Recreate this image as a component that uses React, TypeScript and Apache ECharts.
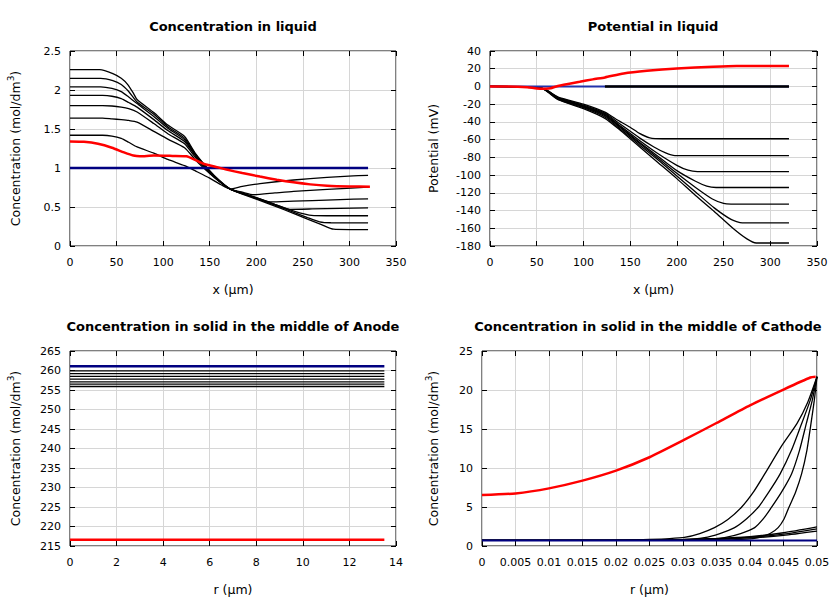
import React, { useEffect, useRef } from "react";
import * as echarts from "echarts";

// ---------- Panel 1: Concentration in liquid (x in µm, mol/dm3) ----------
const liqConc0 = [[0,1.42],[35,1.42],[45,1.41],[55,1.38],[63,1.33],[72,1.27],[90,1.19],[105,1.11],[123,1.03],[135,0.96],[150,0.87],[160,0.8],[172,0.73],[185,0.765],[204,0.8],[240,0.846],[276,0.88],[304,0.9],[320,0.905]];
const liqConc1 = [[0,1.64],[35,1.64],[45,1.63],[55,1.62],[63,1.61],[72,1.589],[90,1.47],[105,1.37],[123,1.26],[135,1.1],[150,0.93],[160,0.83],[172,0.73],[185,0.69],[197,0.657],[220,0.68],[240,0.7],[276,0.725],[320,0.755]];
const liqConc2 = [[0,1.8],[35,1.8],[45,1.795],[55,1.78],[63,1.76],[72,1.718],[90,1.57],[105,1.44],[123,1.31],[135,1.13],[150,0.94],[160,0.83],[172,0.73],[195,0.64],[215,0.565],[240,0.575],[260,0.583],[290,0.595],[320,0.605]];
const liqConc3 = [[0,1.93],[35,1.93],[45,1.92],[55,1.89],[63,1.84],[72,1.78],[90,1.62],[105,1.48],[123,1.34],[135,1.15],[150,0.95],[160,0.835],[172,0.73],[200,0.62],[220,0.535],[236,0.47],[260,0.475],[290,0.483],[320,0.49]];
const liqConc4 = [[0,2.04],[33,2.04],[45,2.02],[55,1.98],[63,1.91],[72,1.826],[90,1.66],[105,1.51],[123,1.362],[135,1.16],[150,0.955],[160,0.835],[172,0.73],[200,0.615],[230,0.49],[250,0.415],[262,0.39],[290,0.388],[320,0.388]];
const liqConc5 = [[0,2.15],[33,2.15],[46,2.12],[55,2.07],[63,1.98],[72,1.847],[90,1.69],[105,1.53],[123,1.383],[135,1.17],[150,0.96],[160,0.84],[172,0.73],[200,0.61],[230,0.48],[255,0.365],[268,0.31],[280,0.298],[320,0.297]];
const liqConc6 = [[0,2.26],[32,2.26],[46,2.21],[55,2.15],[62,2.07],[68,1.96],[72,1.877],[90,1.71],[105,1.55],[123,1.405],[135,1.18],[150,0.965],[160,0.845],[172,0.73],[200,0.6],[230,0.465],[255,0.345],[270,0.275],[283,0.215],[300,0.21],[320,0.21]];
const liqConcInitial = [[0,1],[320,1]];
const liqConcFinal = [[0,1.34],[15,1.335],[30,1.31],[45,1.26],[58,1.2],[68,1.16],[75,1.15],[90,1.16],[110,1.155],[125,1.15],[135,1.1],[143,1.055],[155,1.02],[168,0.98],[185,0.935],[204,0.89],[222,0.85],[240,0.816],[258,0.79],[276,0.773],[300,0.763],[322,0.76]];

// ---------- Panel 2: Potential in liquid (mV) ----------
const pot0 = [[0,0],[40,-0.5],[55,-2],[62,-5],[73,-12],[100,-20],[123,-29],[135,-37],[150,-46],[160,-53],[171,-58],[185,-59],[320,-59]];
const pot1 = [[0,0],[40,-0.5],[55,-2],[62,-5],[73,-12.5],[100,-21],[123,-30],[140,-43],[160,-58],[175,-68],[188,-75],[198,-78],[320,-78]];
const pot2 = [[0,0],[40,-0.5],[55,-2],[62,-5.5],[73,-13],[100,-22],[123,-31],[140,-45],[160,-61],[180,-76],[200,-89],[212,-94.5],[222,-96],[320,-96]];
const pot3 = [[0,0],[40,-0.5],[55,-2],[62,-5.5],[73,-13.5],[100,-22.5],[123,-32],[140,-46],[160,-63],[180,-79],[200,-95],[220,-107],[232,-112.5],[242,-114],[320,-114]];
const pot4 = [[0,0],[40,-0.5],[55,-2],[62,-6],[73,-14],[100,-23],[123,-33],[140,-47],[160,-64],[180,-81],[200,-98],[220,-114],[238,-127],[250,-132],[258,-132.7],[320,-132.7]];
const pot5 = [[0,0],[40,-0.5],[55,-2],[62,-6],[73,-14.5],[100,-24],[123,-34.5],[140,-48.5],[160,-66],[180,-83],[200,-101],[220,-119],[240,-137],[258,-150],[270,-154],[320,-154]];
const pot6 = [[0,0],[40,-0.5],[55,-2],[62,-6.5],[73,-15],[100,-25],[123,-36],[140,-50],[160,-68],[180,-86],[200,-104],[220,-123],[240,-141],[260,-160],[275,-172],[285,-176.6],[320,-176.6]];
const potInitial = [[0,0],[320,0]];
const potZeroSep = [[123,0],[320,0]];
const potFinal = [[0,0],[20,0],[40,-0.8],[50,-2.3],[60,-2.5],[65,-2],[71,0],[85,3],[96,5.2],[110,8],[123,10.2],[143,14.7],[168,17.7],[200,20.3],[239,22.2],[264,23],[320,23]];

// ---------- Panel 3: solid concentration, middle of anode ----------
const anodeR = [0, 13.5];
const anodeLevels = [259.9, 259.2, 258.5, 257.8, 257.1, 256.5, 255.9];
const anodeInitial = 261.1;
const anodeFinal = 216.6;

// ---------- Panel 4: solid concentration, middle of cathode ----------
const cathA = [[0,0.72],[0.02,0.74],[0.025,0.85],[0.028,0.95],[0.0302,1.1],[0.0325,1.6],[0.0347,2.36],[0.0367,3.4],[0.0387,4.94],[0.0405,6.9],[0.0422,9.24],[0.0447,12.8],[0.047,15.68],[0.0486,18.4],[0.05,21.7]];
const cathB = [[0,0.72],[0.025,0.73],[0.03,0.8],[0.0332,1.07],[0.0355,1.6],[0.0377,2.36],[0.0395,3.5],[0.0412,4.94],[0.0428,6.9],[0.0445,9.24],[0.0462,12.3],[0.0477,15.68],[0.049,18.7],[0.05,21.7]];
const cathC = [[0,0.72],[0.03,0.74],[0.0345,0.88],[0.0362,1.07],[0.0386,1.6],[0.0407,2.36],[0.042,3.5],[0.0432,4.94],[0.0447,6.9],[0.0462,9.24],[0.0474,12.3],[0.0484,15.68],[0.0493,18.7],[0.05,21.7]];
const cathD = [[0,0.72],[0.035,0.75],[0.0395,0.88],[0.0412,1.07],[0.043,1.6],[0.0442,2.36],[0.0451,3.5],[0.0458,4.94],[0.0468,6.9],[0.0477,9.24],[0.0485,12.3],[0.0491,15.68],[0.0496,18.7],[0.05,21.7]];
const cathS1 = [[0,0.72],[0.02,0.74],[0.03,0.85],[0.035,0.97],[0.04,1.2],[0.045,1.7],[0.05,2.45]];
const cathS2 = [[0,0.72],[0.025,0.74],[0.03,0.8],[0.035,0.92],[0.04,1.12],[0.045,1.52],[0.05,2.2]];
const cathS3 = [[0,0.72],[0.025,0.73],[0.03,0.77],[0.035,0.86],[0.04,1.03],[0.045,1.35],[0.05,1.9]];
const cathInitial = [[0,0.7],[0.05,0.7]];
const cathFinal = [[0,6.53],[0.005,6.74],[0.01,7.39],[0.015,8.38],[0.02,9.66],[0.025,11.38],[0.03,13.53],[0.035,15.77],[0.04,18.04],[0.045,20.06],[0.049,21.6],[0.0498,21.7]];

// ---------- texts ----------
const titles = [
  "Concentration in liquid",
  "Potential in liquid",
  "Concentration in solid in the middle of Anode",
  "Concentration in solid in the middle of Cathode",
];
const xNames = ["x (µm)", "x (µm)", "r (µm)", "r (µm)"];
const yNames = [
  "Concentration (mol/dm{sup|3})",
  "Potential (mV)",
  "Concentration (mol/dm{sup|3})",
  "Concentration (mol/dm{sup|3})",
];

const FONT = "'DejaVu Sans', sans-serif";
const BLACK = "#000000";
const RED = "#ff0000";
const NAVY = "#000080";

const grids = [
  { left: 70, top: 51, width: 326, height: 195 },
  { left: 490, top: 51, width: 327, height: 195 },
  { left: 70, top: 351, width: 326, height: 195 },
  { left: 482, top: 351, width: 335, height: 195 },
];
const titleCenters = [233, 653, 233, 648];
const titleTops = [20, 20, 320, 320];
const xRanges = [[0, 350, 50], [0, 350, 50], [0, 14, 2], [0, 0.05, 0.005]];
const yRanges = [[0, 2.5, 0.5], [-180, 40, 20], [215, 265, 5], [0, 25, 5]];
const yNameGaps = [46, 48, 46, 40];

function buildOption() {
  const xAxis: any[] = [];
  const yAxis: any[] = [];
  grids.forEach((_, g) => {
    const [xmin, xmax, xint] = xRanges[g];
    const [ymin, ymax, yint] = yRanges[g];
    const tick = { inside: true, length: 5, lineStyle: { color: BLACK, width: 1 } };
    const noLine = { show: false, onZero: false };
    xAxis.push({
      gridIndex: g, type: "value", min: xmin, max: xmax, interval: xint, position: "bottom",
      axisLine: noLine, axisTick: tick,
      axisLabel: { margin: 11, color: BLACK, fontSize: 11, fontFamily: FONT },
      splitLine: { show: true, lineStyle: { color: "#d6d6d6", width: 1 } },
      name: xNames[g], nameLocation: "middle", nameGap: 37,
      nameTextStyle: { color: BLACK, fontSize: 12.5, fontFamily: FONT },
    });
    xAxis.push({
      gridIndex: g, type: "value", min: xmin, max: xmax, interval: xint, position: "top",
      axisLine: noLine, axisTick: tick, axisLabel: { show: false }, splitLine: { show: false },
    });
    yAxis.push({
      gridIndex: g, type: "value", min: ymin, max: ymax, interval: yint, position: "left",
      axisLine: noLine, axisTick: tick,
      axisLabel: { margin: 9, color: BLACK, fontSize: 11, fontFamily: FONT },
      splitLine: { show: true, lineStyle: { color: "#d6d6d6", width: 1 } },
      name: yNames[g], nameLocation: "middle", nameGap: yNameGaps[g],
      nameTextStyle: {
        color: BLACK, fontSize: 12.5, fontFamily: FONT, lineHeight: 18,
        rich: { sup: { fontSize: 9, fontFamily: FONT, color: BLACK, verticalAlign: "top", lineHeight: 18 } },
      },
    });
    yAxis.push({
      gridIndex: g, type: "value", min: ymin, max: ymax, interval: yint, position: "right",
      axisLine: noLine, axisTick: tick, axisLabel: { show: false }, splitLine: { show: false },
    });
  });

  const series: any[] = [];
  const line = (g: number, data: any, color: string, width: number, z: number, smooth: number | boolean = 0.2) => {
    series.push({
      type: "line", xAxisIndex: 2 * g, yAxisIndex: 2 * g, data, showSymbol: false, symbol: "none",
      smooth, lineStyle: { color, width }, z, silent: true,
    });
  };

  [liqConc0, liqConc1, liqConc2, liqConc3, liqConc4, liqConc5, liqConc6].forEach((d) => line(0, d, BLACK, 1.3, 2));
  line(0, liqConcInitial, NAVY, 2.5, 3, false);
  line(0, liqConcFinal, RED, 2.5, 4);

  [pot0, pot1, pot2, pot3, pot4, pot5, pot6].forEach((d) => line(1, d, BLACK, 1.3, 2));
  line(1, potInitial, "#2233aa", 2, 3, false);
  line(1, potZeroSep, BLACK, 2.5, 3, false);
  line(1, potFinal, RED, 2.5, 4);

  anodeLevels.forEach((v) => line(2, [[anodeR[0], v], [anodeR[1], v]], BLACK, 1.3, 2, false));
  line(2, [[anodeR[0], anodeInitial], [anodeR[1], anodeInitial]], NAVY, 2.5, 3, false);
  line(2, [[anodeR[0], anodeFinal], [anodeR[1], anodeFinal]], RED, 2.5, 4, false);

  [cathS1, cathS2, cathS3, cathA, cathB, cathC, cathD].forEach((d) => line(3, d, BLACK, 1.3, 2));
  line(3, cathInitial, NAVY, 2, 3, false);
  line(3, cathFinal, RED, 2.5, 4);

  return {
    animation: false,
    backgroundColor: "#ffffff",
    title: titles.map((t, i) => ({
      text: t, left: titleCenters[i], top: titleTops[i], textAlign: "center", padding: 0,
      textStyle: { color: BLACK, fontSize: 13, fontWeight: "bold", fontFamily: FONT },
    })),
    grid: grids.map((g) => ({ ...g, show: true, borderColor: BLACK, borderWidth: 1, backgroundColor: "transparent", containLabel: false })),
    xAxis, yAxis, series,
  };
}

export default function App() {
  const ref = useRef<HTMLDivElement>(null);
  useEffect(() => {
    if (!ref.current) return;
    const chart = echarts.init(ref.current, undefined, { renderer: "svg" });
    chart.setOption(buildOption());
    return () => chart.dispose();
  }, []);
  return <div ref={ref} style={{ position: "fixed", left: 0, top: 0, width: 840, height: 600, background: "#fff" }} />;
}
